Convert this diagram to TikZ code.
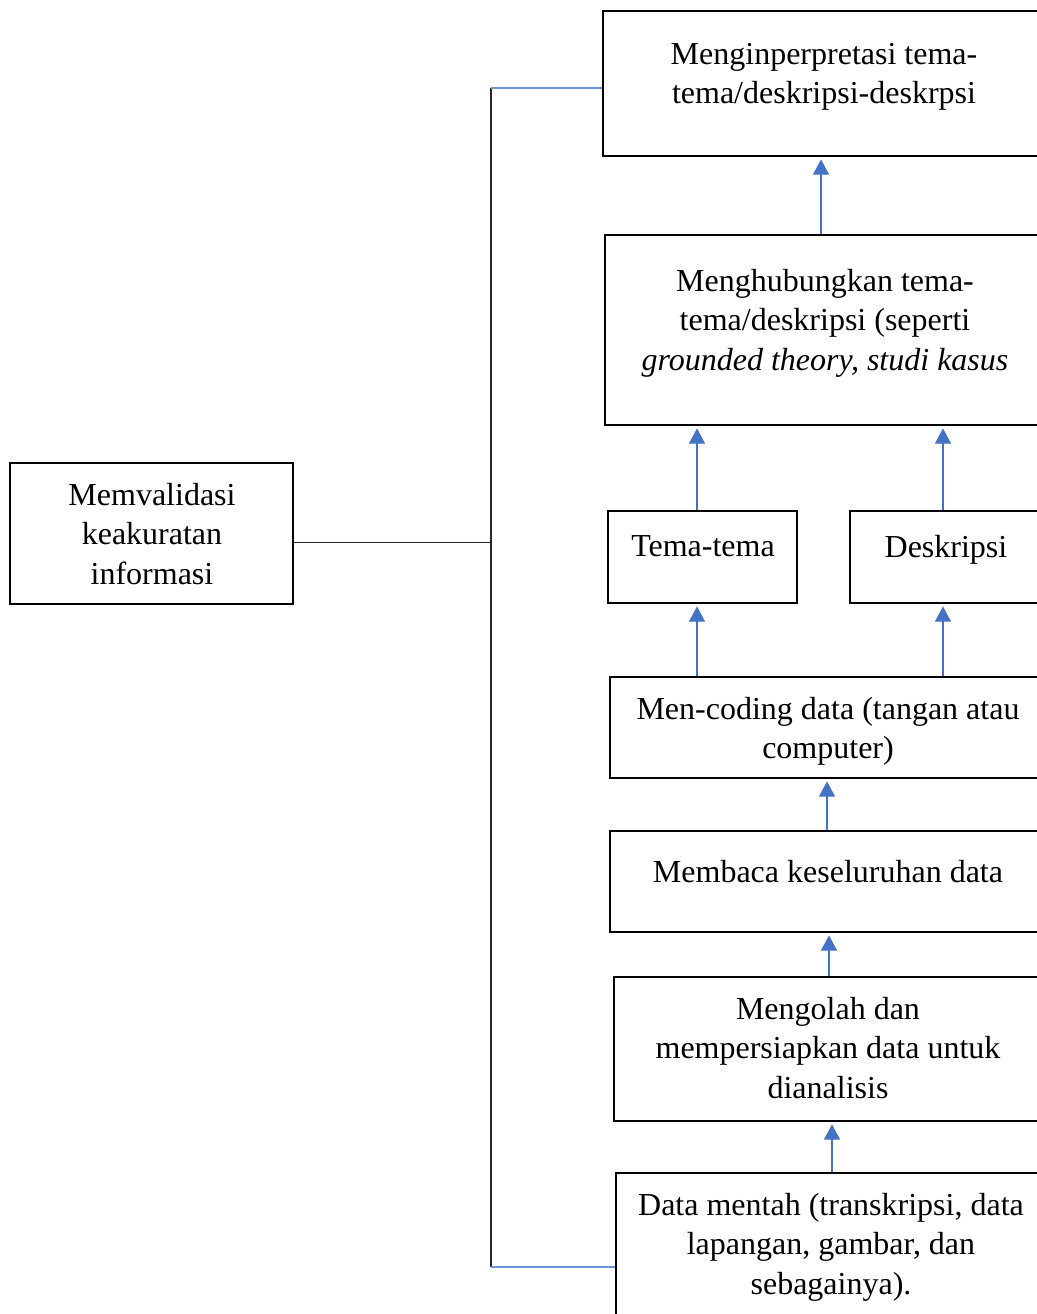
\documentclass[tikz,border=0pt]{standalone}
\usepackage{fontspec}
\setmainfont{Liberation Serif}
\usetikzlibrary{fit,arrows.meta}
\definecolor{ablue}{HTML}{4472C4}
\definecolor{lblue}{HTML}{6F94D2}
\begin{document}
\begin{tikzpicture}[x=0.75pt,y=-0.75pt,
  box/.style={draw=black, line width=2.1pt, inner sep=0pt},
  txt/.style={inner sep=0pt, align=center, anchor=north, font=\fontsize{24}{29.6}\selectfont},
  arr/.style={draw=ablue, line width=1.1pt, -{Triangle[width=12pt,length=11.5pt]}, shorten >=1.5pt},
  bline/.style={draw=lblue, line width=1.1pt},
  kline/.style={draw=black!85, line width=0.9pt}]
\useasboundingbox (0,0) rectangle (1037,1314);
\clip (0,0) rectangle (1037,1314);
% boxes
\node[box, fit={(603,11) (1060,156)}] (b1) {};
\node[box, fit={(605,235) (1060,425)}] (b2) {};
\node[box, fit={(608,511) (797,603)}] (tema) {};
\node[box, fit={(850,511) (1060,603)}] (desk) {};
\node[box, fit={(610,677) (1060,778)}] (code) {};
\node[box, fit={(610,831) (1060,932)}] (baca) {};
\node[box, fit={(614,977) (1060,1121)}] (olah) {};
\node[box, fit={(616,1173) (1060,1340)}] (data) {};
\node[box, fit={(10,463) (293,604)}] (valid) {};
% texts
\node[txt] (t1) at (824,43) {Menginperpretasi tema-\\tema/deskripsi-deskrpsi};
\node[txt] (t2) at (825,269) {Menghubungkan tema-\\tema/deskripsi (seperti\\\textit{grounded theory, studi kasus}};
\node[txt] (t3) at (703,535) {Tema-tema};
\node[txt] (t4) at (946,535) {Deskripsi};
\node[txt] (t5) at (828,697) {Men-coding data (tangan atau\\computer)};
\node[txt] (t6) at (828,860) {Membaca keseluruhan data};
\node[txt] (t7) at (828,997) {Mengolah dan\\mempersiapkan data untuk\\dianalisis};
\node[txt] (t8) at (831,1193) {Data mentah (transkripsi, data\\lapangan, gambar, dan\\sebagainya).};
\node[txt] (t9) at (152,483) {Memvalidasi\\keakuratan\\informasi};
% arrow columns
\coordinate (c1) at (821,0);
\coordinate (c2) at (697,0);
\coordinate (c3) at (943,0);
\coordinate (c4) at (827,0);
\coordinate (c5) at (829,0);
\coordinate (c6) at (832,0);
\draw[arr] (c1 |- b2.north) -- (c1 |- b1.south);
\draw[arr] (c2 |- tema.north) -- (c2 |- b2.south);
\draw[arr] (c3 |- desk.north) -- (c3 |- b2.south);
\draw[arr] (c2 |- code.north) -- (c2 |- tema.south);
\draw[arr] (c3 |- code.north) -- (c3 |- desk.south);
\draw[arr] (c4 |- baca.north) -- (c4 |- code.south);
\draw[arr] (c5 |- olah.north) -- (c5 |- baca.south);
\draw[arr] (c6 |- data.north) -- (c6 |- olah.south);
% bus
\coordinate (bt) at (491,88);
\coordinate (bb) at (491,1267);
\draw[kline] (bt) -- (bb);
\draw[kline] ([yshift=-7pt]valid.east) -- ([yshift=-7pt]valid.east -| bt);
\draw[bline] (bt) -- (bt -| b1.west);
\draw[bline] (bb) -- (bb -| data.west);
\end{tikzpicture}
\end{document}
